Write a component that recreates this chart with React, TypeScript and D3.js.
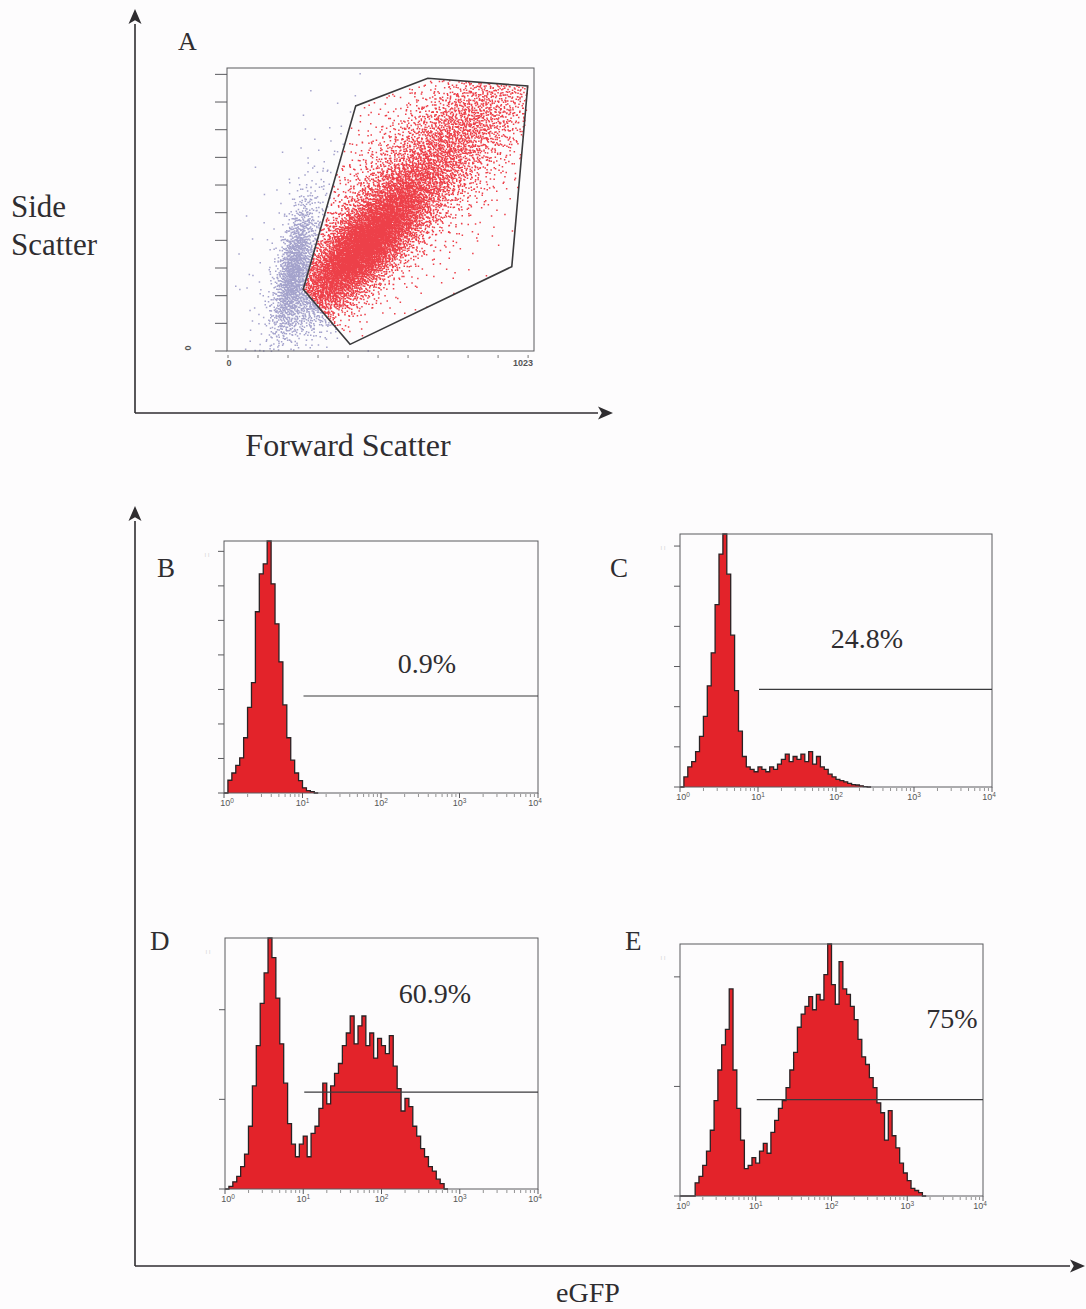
import * as d3 from "d3";
import { useEffect, useRef } from "react";

const W = 1086;
const H = 1309;

// panel A: scatter clusters (data units 0..1023)
const clusterCenterX = [450, 650, 820, 600, 220];
const clusterCenterY = [375, 640, 860, 600, 300];
const clusterSdMajor = [165, 245, 165, 300, 125];
const clusterSdMinor = [58, 85, 85, 150, 26];
const clusterAngle = [50, 48, 38, 50, 80];
const clusterCount = [6300, 3200, 700, 1300, 1300];
const debrisCluster = 4;

// gate polygon (forward scatter, side scatter)
const gateX = [254, 429, 669, 1002, 949, 410];
const gateY = [223, 886, 986, 958, 305, 24];

const scatterTicks = [0, 100, 200, 300, 400, 500, 600, 700, 800, 900, 1000];

// histograms: counts per 0.05-decade channel starting at 10^0
const binWidth = 0.05;
const histB = [0, 3.7, 5.8, 8, 10.2, 16, 24.8, 32, 52.5, 63.5, 66.4, 73, 60.6, 49, 38, 25.5, 16, 9.5, 5.8, 3.6, 1.5, 0.7, 0.4, 0];
const histC = [0, 2.5, 5, 6.3, 8.8, 12.6, 17.6, 25.2, 33.4, 45.4, 58, 63, 53, 37.8, 24, 13.9, 7.6, 5, 4.4, 3.8, 5, 4.4, 3.8, 5, 4.4, 5.7, 6.9, 8.2, 6.3, 7.6, 6.9, 8.2, 6.3, 8.8, 5.7, 7.6, 5, 4.4, 3.2, 2.5, 1.9, 1.6, 1.3, 0.9, 0.6, 0.5, 0.3, 0.1, 0];
const histD = [0, 0.3, 0.8, 1.4, 2.5, 3.9, 7, 11.5, 16, 20.7, 24.1, 28, 25.8, 21.3, 16.2, 11.8, 7.3, 5, 3.6, 5, 5.9, 3.6, 6.2, 7, 9, 11.8, 9.5, 11.5, 12.9, 14, 16, 17.4, 19.3, 16.2, 18.2, 19.3, 16, 17.4, 14.6, 16.8, 16, 15.1, 17.1, 13.7, 11.2, 8.7, 10.1, 9.2, 7, 5.9, 4.5, 3.6, 2.5, 2, 1.1, 0.6, 0];
const histE = [0, 0, 0, 0, 1.2, 1.8, 2.8, 4.1, 6, 8.7, 11.5, 13.8, 15.2, 18.9, 11.5, 8, 5.1, 2.5, 2.8, 3.5, 3, 4.1, 4.8, 3.9, 5.8, 6.9, 8, 8.7, 9.9, 11.5, 13.1, 15.4, 16.6, 17.3, 18.2, 17, 18.4, 17.9, 20.2, 23, 19.3, 17.5, 21.4, 18.9, 18.4, 17.3, 16.1, 14.3, 12.7, 12, 10.8, 9.9, 8.5, 7.6, 5.1, 7.8, 5.5, 4.4, 3, 2.1, 1.4, 0.7, 0.5, 0.3, 0];

const panelNames = ["B", "C", "D", "E"];
const panelPercent = ["0.9%", "24.8%", "60.9%", "75%"];
const panelYMax = [73, 63, 28, 23];
const panelGateLevel = [28.1, 24.3, 10.8, 8.8];
const panelHist = [histB, histC, histD, histE];
const decadeTicks = [1, 10, 100, 1000, 10000];

// layout of the histogram boxes [left, top, right, bottom]
const boxes = [
  [224, 541, 538, 793],
  [680, 534, 992, 787],
  [225, 938, 538, 1189],
  [680, 944, 983, 1196],
];
const letterPos = [[157, 577], [610, 577], [150, 950], [625, 950]];
const percentPos = [[427, 673], [867, 648], [435, 1003], [952, 1028]];

const serif = "'Liberation Serif', 'Times New Roman', serif";
const sans = "'Liberation Sans', Arial, sans-serif";
const ink = "#2f2d30";
const red = "#e3232a";

const halton = (i: number, b: number) => {
  let f = 1, r = 0;
  while (i > 0) {
    f /= b;
    r += f * (i % b);
    i = Math.floor(i / b);
  }
  return r;
};

const arrow = (g: any, x1: number, y1: number, x2: number, y2: number) => {
  const ang = Math.atan2(y2 - y1, x2 - x1);
  const len = 15, hw = 6.5;
  const bx = x2 - len * Math.cos(ang), by = y2 - len * Math.sin(ang);
  g.append("line").attr("x1", x1).attr("y1", y1).attr("x2", bx).attr("y2", by)
    .attr("stroke", ink).attr("stroke-width", 1.6);
  const px = -Math.sin(ang) * hw, py = Math.cos(ang) * hw;
  g.append("path")
    .attr("d", `M${x2},${y2}L${bx + px},${by + py}L${bx + len * 0.25 * Math.cos(ang)},${by + len * 0.25 * Math.sin(ang)}L${bx - px},${by - py}Z`)
    .attr("fill", ink);
};

export default function App() {
  const ref = useRef<SVGSVGElement>(null);

  useEffect(() => {
    const svg = d3.select(ref.current);
    svg.selectAll("*").remove();
    svg.append("rect").attr("width", W).attr("height", H).attr("fill", "#fdfcfd");

    // outer axes arrows
    const axes = svg.append("g");
    arrow(axes, 135, 413, 135, 9);
    arrow(axes, 135, 413, 613, 413);
    arrow(axes, 135, 1266, 135, 506);
    arrow(axes, 135, 1266, 1085, 1266);

    // ---- panel A scatter
    const xA = d3.scaleLinear().domain([0, 1023]).range([227, 534]);
    const yA = d3.scaleLinear().domain([0, 1023]).range([351, 68]);
    const gate: [number, number][] = gateX.map((x, i) => [x, gateY[i]]);

    let redPath = "";
    let bluePath = "";
    let offset = 1;
    clusterCount.forEach((n, k) => {
      const a = (clusterAngle[k] * Math.PI) / 180;
      for (let i = 0; i < n; i++) {
        const u1 = halton(offset + i, 2) || 0.5;
        const u2 = halton(offset + i, 3);
        const r = Math.sqrt(-2 * Math.log(u1));
        const z1 = r * Math.cos(2 * Math.PI * u2) * clusterSdMajor[k];
        const z2 = r * Math.sin(2 * Math.PI * u2) * clusterSdMinor[k];
        const x = clusterCenterX[k] + z1 * Math.cos(a) - z2 * Math.sin(a);
        const y = clusterCenterY[k] + z1 * Math.sin(a) + z2 * Math.cos(a);
        if (x < 2 || x > 1021 || y < 2 || y > 1021) continue;
        const inside = d3.polygonContains(gate, [x, y]);
        // cell populations only leave the gate towards its left side
        if (k !== debrisCluster && !inside && x > 480) continue;
        const s = `M${xA(x).toFixed(1)},${yA(y).toFixed(1)}h1.5v1.5h-1.5z`;
        if (inside) redPath += s;
        else bluePath += s;
      }
      offset += n + 977;
    });

    const gA = svg.append("g");
    gA.append("path").attr("d", bluePath).attr("fill", "#4c4a9c").attr("opacity", 0.5);
    gA.append("path").attr("d", redPath).attr("fill", "#e8101c").attr("opacity", 0.8);
    gA.append("rect").attr("x", xA(0)).attr("y", yA(1023)).attr("width", xA(1023) - xA(0)).attr("height", yA(0) - yA(1023))
      .attr("fill", "none").attr("stroke", "#5a5a5e").attr("stroke-width", 1);
    gA.append("path")
      .attr("d", d3.line()(gate.map(([x, y]) => [xA(x), yA(y)])) + "Z")
      .attr("fill", "none").attr("stroke", "#3a3a3c").attr("stroke-width", 1.6);
    scatterTicks.forEach((v) => {
      gA.append("line").attr("x1", 215).attr("x2", xA(0)).attr("y1", yA(v)).attr("y2", yA(v)).attr("stroke", "#5a5a5e");
      gA.append("line").attr("x1", xA(v) + 1).attr("x2", xA(v) + 1).attr("y1", 355).attr("y2", 358).attr("stroke", "#777");
    });
    gA.append("text").attr("x", xA(0) + 2).attr("y", 366).attr("text-anchor", "middle")
      .attr("font-family", sans).attr("font-weight", "bold").attr("font-size", 9).attr("fill", "#555").text("0");
    gA.append("text").attr("x", xA(1023) - 1).attr("y", 366).attr("text-anchor", "end")
      .attr("font-family", sans).attr("font-weight", "bold").attr("font-size", 9).attr("fill", "#555").text("1023");
    gA.append("text").attr("transform", "translate(191,348) rotate(-90)").attr("text-anchor", "middle")
      .attr("font-family", sans).attr("font-weight", "bold").attr("font-size", 9).attr("fill", "#555").text("0");

    // ---- histogram panels
    panelHist.forEach((hist, p) => {
      const [x0, y0, x1, y1] = boxes[p];
      const xs = d3.scaleLog().domain([1, 10000]).range([x0, x1]);
      const ys = d3.scaleLinear().domain([0, panelYMax[p]]).range([y1, y0]);
      const g = svg.append("g");

      const pts = hist.map((c, i) => ({ v: Math.pow(10, i * binWidth), c: Math.min(c, panelYMax[p]) }));
      pts.push({ v: Math.pow(10, hist.length * binWidth), c: 0 });

      g.append("path")
        .attr("d", d3.area<any>().x((d) => xs(d.v)).y0(y1).y1((d) => ys(d.c)).curve(d3.curveStepAfter)(pts))
        .attr("fill", red);
      g.append("path")
        .attr("d", d3.line<any>().x((d) => xs(d.v)).y((d) => ys(d.c)).curve(d3.curveStepAfter)(pts))
        .attr("fill", "none").attr("stroke", "#2a2224").attr("stroke-width", 1.3);

      g.append("rect").attr("x", x0).attr("y", y0).attr("width", x1 - x0).attr("height", y1 - y0)
        .attr("fill", "none").attr("stroke", "#5a5a5e").attr("stroke-width", 1);

      // y ticks
      ys.ticks(10).filter((t) => t % 10 === 0 && t <= panelYMax[p]).forEach((t) => {
        g.append("line").attr("x1", x0 - 6).attr("x2", x0).attr("y1", ys(t)).attr("y2", ys(t)).attr("stroke", "#5a5a5e");
      });
      g.append("text").attr("transform", `translate(${x0 - 15},${y0 + 16}) rotate(-90)`)
        .attr("font-family", sans).attr("font-size", 7).attr("fill", "#777").text("::");

      // x ticks: decades and log minors
      decadeTicks.forEach((d, i) => {
        g.append("line").attr("x1", xs(d)).attr("x2", xs(d)).attr("y1", y1).attr("y2", y1 + 5).attr("stroke", "#5a5a5e");
        const t = g.append("text").attr("x", xs(d) + (i === 0 ? 3 : i === 4 ? -3 : 0)).attr("y", y1 + 13).attr("text-anchor", "middle")
          .attr("font-family", sans).attr("font-size", 9).attr("fill", "#555");
        t.append("tspan").text("10");
        t.append("tspan").attr("dy", -3).attr("font-size", 6.5).text(String(i));
        if (d < 10000) {
          for (let m = 2; m <= 9; m++) {
            g.append("line").attr("x1", xs(d * m)).attr("x2", xs(d * m)).attr("y1", y1 + 1).attr("y2", y1 + 4)
              .attr("stroke", "#777").attr("stroke-width", 0.8);
          }
        }
      });

      // marker gate
      g.append("line").attr("x1", xs(10) + 1).attr("x2", x1).attr("y1", ys(panelGateLevel[p])).attr("y2", ys(panelGateLevel[p]))
        .attr("stroke", "#3a3a3c").attr("stroke-width", 1.2);

      g.append("text").attr("x", percentPos[p][0]).attr("y", percentPos[p][1]).attr("text-anchor", "middle")
        .attr("font-family", serif).attr("font-size", 28).attr("fill", ink).text(panelPercent[p]);
      g.append("text").attr("x", letterPos[p][0]).attr("y", letterPos[p][1])
        .attr("font-family", serif).attr("font-size", 27).attr("fill", ink).text(panelNames[p]);
    });

    // ---- titles
    const tx = svg.append("g").attr("font-family", serif).attr("fill", ink);
    tx.append("text").attr("x", 178).attr("y", 50).attr("font-size", 26).text("A");
    tx.append("text").attr("x", 11).attr("y", 217).attr("font-size", 31).text("Side");
    tx.append("text").attr("x", 11).attr("y", 255).attr("font-size", 31).text("Scatter");
    tx.append("text").attr("x", 348).attr("y", 456).attr("text-anchor", "middle").attr("font-size", 32).text("Forward Scatter");
    tx.append("text").attr("x", 588).attr("y", 1302).attr("text-anchor", "middle").attr("font-size", 28).text("eGFP");
  }, []);

  return <svg ref={ref} width={W} height={H} style={{ position: "absolute", left: 0, top: 0 }} />;
}
